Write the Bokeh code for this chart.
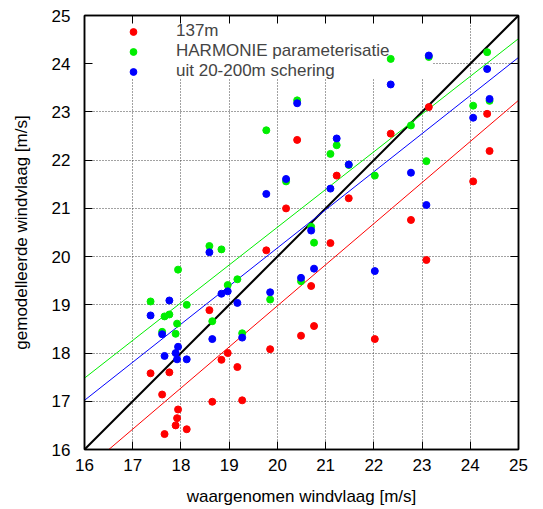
from bokeh.plotting import figure
from bokeh.models import (Range1d, LinearAxis, SingleIntervalTicker, FixedTicker, Grid,
                          Legend, LegendItem, CustomLabelingPolicy)
from bokeh.embed import file_html
from bokeh.resources import INLINE

# observed gust (same observations for all three series)
obs = [17.37, 17.61, 17.66, 17.76, 17.89, 17.92, 17.94, 18.12, 18.59, 18.65, 18.84,
       18.97, 19.17, 19.27, 19.77, 19.85, 20.18, 20.41, 20.49, 20.70, 20.76, 21.10,
       21.23, 21.48, 22.02, 22.35, 22.77, 23.09, 23.14, 24.06, 24.35, 24.40]
m137 = [17.58, 17.14, 16.32, 17.60, 16.50, 16.65, 16.83, 16.42, 18.89, 16.99, 17.86,
        18.00, 17.71, 17.02, 20.13, 18.08, 21.00, 22.42, 18.36, 19.39, 18.56, 20.28,
        21.68, 21.21, 18.29, 22.55, 20.76, 19.93, 23.10, 21.56, 22.96, 22.19]
harmonie = [19.07, 18.44, 18.76, 18.80, 18.40, 18.61, 19.73, 19.00, 20.22, 18.66, 20.15,
            19.41, 19.53, 18.41, 22.62, 19.11, 21.56, 23.24, 19.49, 20.62, 20.29, 22.13,
            22.31, 21.90, 21.68, 24.10, 22.72, 21.98, 24.14, 23.13, 24.24, 23.23]
shear = [18.78, 18.39, 17.94, 19.09, 18.00, 17.87, 18.13, 17.87, 20.09, 18.29, 19.23,
         19.28, 19.04, 18.32, 21.30, 19.26, 21.61, 23.18, 19.56, 20.54, 19.75, 21.41,
         22.45, 21.91, 19.70, 23.57, 21.74, 21.07, 24.17, 22.88, 23.89, 23.27]

# fitted lines, evaluated at the ends of the axis range
fit_x = [16, 25]
diag_y = [16, 25]
m137_fit = [15.57, 23.24]
harmonie_fit = [17.48, 24.52]
shear_fit = [17.02, 24.13]

labels = ["137m", "HARMONIE parameterisatie", "uit 20-200m schering"]
colors = ["#ff0000", "#00ee00", "#0000ff"]

# grid lines; those under the key stop at the key's edge
xgrid_under_key = [17, 18, 19, 20, 21, 22, 23]
xgrid_free = [24]
ygrid_free = [17, 18, 19, 20, 21, 22, 23]
ygrid_under_key = [24]
KEY_BOTTOM = 23.69   # key box lower edge (data units)
KEY_RIGHT = 23.24    # key box right edge (data units)

FONT = "Liberation Sans"

p = figure(output_backend="svg", toolbar_location=None,
           frame_width=434, frame_height=434,
           x_range=Range1d(16, 25), y_range=Range1d(16, 25),
           min_border_left=84, min_border_right=17, min_border_top=15, min_border_bottom=55,
           background_fill_color="white", border_fill_color="white")

p.outline_line_color = "black"
p.outline_line_width = 1.5

ticker = SingleIntervalTicker(interval=1)
for ax in (p.xaxis[0], p.yaxis[0]):
    ax.ticker = ticker
    ax.major_tick_in = 8
    ax.major_tick_out = 0
    ax.minor_tick_in = 0
    ax.minor_tick_out = 0
    ax.axis_line_color = "black"
    ax.axis_line_width = 1.5
    ax.major_label_text_font = FONT
    ax.major_label_text_font_size = "17px"
    ax.major_label_text_color = "black"
    ax.axis_label_text_font = FONT
    ax.axis_label_text_font_size = "17px"
    ax.axis_label_text_font_style = "normal"
    ax.axis_label_text_color = "black"

p.xaxis.axis_label = "waargenomen windvlaag [m/s]"
p.yaxis.axis_label = "gemodelleerde windvlaag [m/s]"
p.xaxis.major_label_standoff = 9
p.xaxis.axis_label_standoff = 13
p.yaxis.major_label_standoff = 14
p.yaxis.axis_label_standoff = 18

# mirrored tick marks on top and right, without labels
for loc in ("above", "right"):
    ax = LinearAxis(ticker=SingleIntervalTicker(interval=1))
    ax.major_tick_in = 8
    ax.major_tick_out = 0
    ax.minor_tick_in = 0
    ax.minor_tick_out = 0
    ax.major_label_text_font_size = "1px"
    ax.major_label_standoff = 0
    ax.major_label_policy = CustomLabelingPolicy(code="const data = []; return new Set(data)")
    ax.axis_line_color = "black"
    ax.axis_line_width = 1.5
    p.add_layout(ax, loc)

# replace default grids
p.xgrid[0].visible = False
p.ygrid[0].visible = False

grid_style = dict(grid_line_color="#444444", grid_line_dash="1 2", grid_line_width=1)
p.add_layout(Grid(dimension=0, ticker=FixedTicker(ticks=xgrid_under_key),
                  cross_bounds=(16, KEY_BOTTOM), **grid_style))
p.add_layout(Grid(dimension=0, ticker=FixedTicker(ticks=xgrid_free), **grid_style))
p.add_layout(Grid(dimension=1, ticker=FixedTicker(ticks=ygrid_free), **grid_style))
p.add_layout(Grid(dimension=1, ticker=FixedTicker(ticks=ygrid_under_key),
                  cross_bounds=(KEY_RIGHT, 25), **grid_style))

# fit lines
p.line(fit_x, diag_y, line_color="black", line_width=2)
p.line(fit_x, m137_fit, line_color=colors[0], line_width=1)
p.line(fit_x, harmonie_fit, line_color=colors[1], line_width=1)
p.line(fit_x, shear_fit, line_color=colors[2], line_width=1)

r1 = p.scatter(obs, m137, size=7, fill_color=colors[0], line_color=colors[0])
r2 = p.scatter(obs, harmonie, size=7, fill_color=colors[1], line_color=colors[1])
r3 = p.scatter(obs, shear, size=7, fill_color=colors[2], line_color=colors[2])

legend = Legend(items=[LegendItem(label=labels[0], renderers=[r1]),
                       LegendItem(label=labels[1], renderers=[r2]),
                       LegendItem(label=labels[2], renderers=[r3])],
                location="top_left", margin=6, padding=1, spacing=-1,
                glyph_width=86, glyph_height=17, label_height=17,
                label_standoff=0, label_width=230,
                label_text_font=FONT, label_text_font_size="17px",
                background_fill_alpha=0.0, border_line_color=None)
p.add_layout(legend, "center")

open("out.html", "w").write(file_html(p, INLINE))
